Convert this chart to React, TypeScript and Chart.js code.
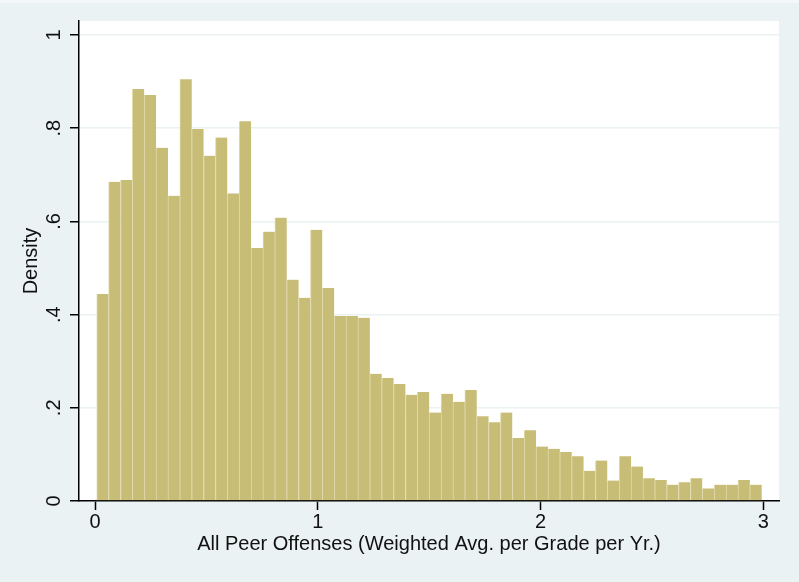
import React, { useEffect, useRef } from 'react';
import { Chart, registerables } from 'chart.js';

Chart.register(...registerables);

// Histogram bins: first bin's left edge and common bin width (x units)
const binStart = 0.0076;
const binWidth = 0.0533;

// Density of each bin (56 bins)
const densities = [
  0.444, 0.685, 0.689, 0.884, 0.871, 0.758, 0.655, 0.905, 0.798, 0.741,
  0.780, 0.660, 0.815, 0.543, 0.578, 0.608, 0.475, 0.436, 0.582, 0.457,
  0.397, 0.397, 0.393, 0.273, 0.264, 0.251, 0.228, 0.234, 0.190, 0.230,
  0.213, 0.238, 0.182, 0.169, 0.190, 0.135, 0.152, 0.117, 0.112, 0.105,
  0.096, 0.065, 0.087, 0.044, 0.096, 0.074, 0.049, 0.045, 0.035, 0.040,
  0.049, 0.027, 0.035, 0.035, 0.045, 0.035,
];

const xTickValues = [0, 1, 2, 3];
const xTickLabels = ['0', '1', '2', '3'];
const yTickValues = [0, 0.2, 0.4, 0.6, 0.8, 1];
const yTickLabels = ['0', '.2', '.4', '.6', '.8', '1'];

const xTitle = 'All Peer Offenses (Weighted Avg. per Grade per Yr.)';
const yTitle = 'Density';

const BG = '#EAF2F3';
const BAR = '#C8BD77';
const BAR_EDGE = '#E0D9A8';
const TEXT = '#111111';
const FONT = { family: 'Arial, "Liberation Sans", sans-serif', size: 20 };

const plotBg = {
  id: 'plotBg',
  beforeDraw(chart: any) {
    const { ctx, chartArea: a } = chart;
    ctx.save();
    ctx.fillStyle = '#ffffff';
    ctx.fillRect(a.left, a.top, a.right - a.left, a.bottom - a.top);
    ctx.restore();
  },
};

export default function App() {
  const ref = useRef<HTMLCanvasElement | null>(null);

  useEffect(() => {
    if (!ref.current) return;
    const chart = new Chart(ref.current, {
      type: 'bar',
      data: {
        datasets: [
          {
            data: densities.map((d, i) => ({ x: binStart + (i + 0.5) * binWidth, y: d })),
            backgroundColor: BAR,
            borderColor: BAR_EDGE,
            borderWidth: { left: 1, right: 0, top: 0, bottom: 0 },
            borderSkipped: false,
            barPercentage: 1,
            categoryPercentage: 1,
          } as any,
        ],
      },
      options: {
        animation: false,
        responsive: false,
        maintainAspectRatio: false,
        layout: { padding: { top: 21, right: 20, left: 0, bottom: 0 } },
        plugins: { legend: { display: false }, tooltip: { enabled: false } },
        scales: {
          x: {
            type: 'linear',
            min: -0.072,
            max: 3.07,
            offset: false,
            afterBuildTicks: (s: any) => {
              s.ticks = xTickValues.map((v) => ({ value: v }));
            },
            afterFit: (s: any) => {
              s.height = 81;
            },
            grid: {
              offset: false,
              drawOnChartArea: false,
              drawTicks: true,
              tickLength: 9,
              tickColor: '#000',
              tickWidth: 1.5,
            },
            border: { color: '#000', width: 1.5 },
            ticks: {
              autoSkip: false,
              minRotation: 0,
              maxRotation: 0,
              padding: 0,
              color: TEXT,
              font: FONT,
              callback: (v: any) => xTickLabels[xTickValues.indexOf(Number(v))] ?? '',
            },
            title: {
              display: true,
              text: xTitle,
              color: TEXT,
              font: FONT,
              padding: { top: 0, bottom: 26 },
            },
          } as any,
          y: {
            type: 'linear',
            min: 0,
            max: 1.03,
            afterBuildTicks: (s: any) => {
              s.ticks = yTickValues.map((v) => ({ value: v }));
            },
            afterFit: (s: any) => {
              s.width = 79;
            },
            grid: {
              color: BG,
              lineWidth: 1.5,
              drawTicks: true,
              tickLength: 9,
              tickColor: '#000',
              tickWidth: 1.5,
            },
            border: { color: '#000', width: 1.5 },
            ticks: {
              autoSkip: false,
              minRotation: 90,
              maxRotation: 90,
              crossAlign: 'center',
              padding: 7,
              color: TEXT,
              font: FONT,
              callback: (v: any) => {
                const i = yTickValues.findIndex((t) => Math.abs(t - Number(v)) < 1e-9);
                return i >= 0 ? yTickLabels[i] : '';
              },
            },
            title: {
              display: true,
              text: yTitle,
              color: TEXT,
              font: FONT,
              padding: { top: 19, bottom: 0 },
            },
          } as any,
        },
      },
      plugins: [plotBg],
    });
    return () => chart.destroy();
  }, []);

  return (
    <div
      style={{
        position: 'fixed',
        left: 0,
        top: 0,
        width: 799,
        height: 582,
        background: BG,
      }}
    >
      <div
        style={{
          position: 'absolute',
          left: 0,
          top: 0,
          width: 799,
          height: 3,
          background: '#F3F7F8',
        }}
      />
      <canvas ref={ref} width={799} height={582} style={{ display: 'block', position: 'absolute', left: 0, top: 0 }} />
    </div>
  );
}
